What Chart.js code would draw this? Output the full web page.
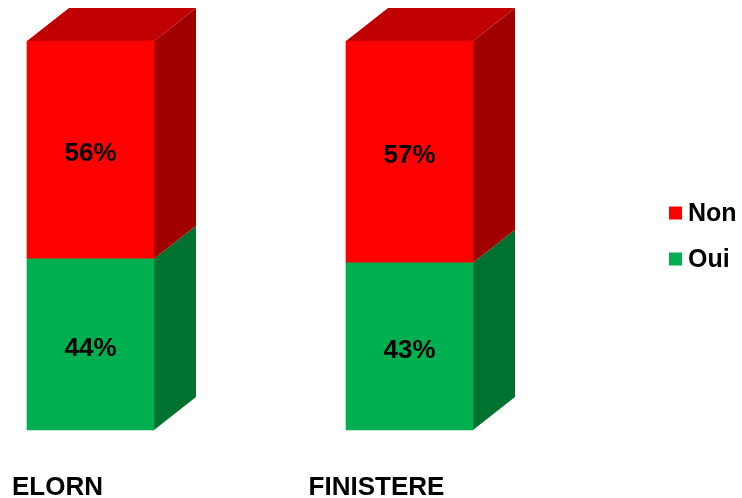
<!DOCTYPE html>
<html>
<head>
<meta charset="utf-8">
<script src="https://cdn.jsdelivr.net/npm/chart.js@4/dist/chart.umd.min.js"></script>
<style>
  html, body { margin: 0; padding: 0; background: #fff; }
  #wrap { width: 742px; height: 498px; position: relative; }
</style>
</head>
<body>
<div id="wrap"><canvas id="chart"></canvas></div>
<script>
/* ---------- Data ---------- */
const categories = ['ELORN', 'FINISTERE'];
const ouiValues  = [44, 43];
const nonValues  = [56, 57];

/* ---------- Look ---------- */
const FONT = '"Liberation Sans", Arial, sans-serif';
const DEPTH = { dx: 42, dy: 33 };        // 3D offset of back faces
const shades = {
  Oui: { front: '#00B050', side: '#007230', top: '#009040' },
  Non: { front: '#FF0000', side: '#A00000', top: '#C00000' }
};

/* ---------- 3D faces ---------- */
const bar3d = {
  id: 'bar3d',
  beforeDatasetsDraw(chart) {
    const ctx = chart.ctx;
    const { dx, dy } = DEPTH;
    const last = chart.data.datasets.length - 1;
    ctx.save();
    chart.data.datasets.forEach((ds, i) => {
      const meta = chart.getDatasetMeta(i);
      const c = shades[ds.label];
      meta.data.forEach(bar => {
        const { x, y, base, width } = bar.getProps(['x', 'y', 'base', 'width'], true);
        const l = x - width / 2, r = x + width / 2;
        // side
        ctx.fillStyle = c.side;
        ctx.beginPath();
        ctx.moveTo(r, y);
        ctx.lineTo(r + dx, y - dy);
        ctx.lineTo(r + dx, base - dy);
        ctx.lineTo(r, base);
        ctx.closePath();
        ctx.fill();
        // top only on the upper stack
        if (i === last) {
          ctx.fillStyle = c.top;
          ctx.beginPath();
          ctx.moveTo(l, y);
          ctx.lineTo(l + dx, y - dy);
          ctx.lineTo(r + dx, y - dy);
          ctx.lineTo(r, y);
          ctx.closePath();
          ctx.fill();
        }
      });
    });
    ctx.restore();
  },
  afterDatasetsDraw(chart) {
    const ctx = chart.ctx;
    ctx.save();
    ctx.font = 'bold 26px ' + FONT;
    ctx.fillStyle = '#000';
    ctx.textAlign = 'center';
    ctx.textBaseline = 'middle';
    chart.data.datasets.forEach((ds, i) => {
      chart.getDatasetMeta(i).data.forEach((bar, j) => {
        const { x, y, base } = bar.getProps(['x', 'y', 'base'], true);
        ctx.fillText(ds.data[j] + '%', x, (y + base) / 2 + 4);
      });
    });
    ctx.restore();
  },
  afterDraw(chart) {
    // legend, top stack first
    const ctx = chart.ctx;
    const items = chart.data.datasets.slice().reverse();
    ctx.save();
    ctx.font = 'bold 25px ' + FONT;
    ctx.textAlign = 'left';
    ctx.textBaseline = 'middle';
    items.forEach((ds, k) => {
      const cy = 213 + k * 46;
      ctx.fillStyle = ds.backgroundColor;
      ctx.fillRect(669, cy - 6.5, 13, 13);
      ctx.fillStyle = '#000';
      ctx.fillText(ds.label, 688, cy + 1);
    });
    ctx.restore();
  }
};

/* ---------- Chart ---------- */
new Chart(document.getElementById('chart'), {
  type: 'bar',
  data: {
    labels: categories,
    datasets: [
      { label: 'Oui', data: ouiValues, backgroundColor: shades.Oui.front, clip: false },
      { label: 'Non', data: nonValues, backgroundColor: shades.Non.front, clip: false }
    ]
  },
  options: {
    responsive: true,
    maintainAspectRatio: false,
    animation: false,
    barThickness: 127,
    layout: { padding: { left: 90.5, right: 332.5, top: 41, bottom: 0 } },
    plugins: { legend: { display: false }, tooltip: { enabled: false } },
    scales: {
      x: {
        stacked: true,
        offset: false,
        grid: { display: false, drawTicks: false },
        border: { display: false },
        ticks: {
          color: '#000',
          font: { family: FONT, size: 26, weight: 'bold' },
          padding: 42,
          labelOffset: -33,
          maxRotation: 0
        },
        afterFit(scale) {
          scale.height = 68;
          scale.paddingLeft = 0;
          scale.paddingRight = 0;
        }
      },
      y: { stacked: true, min: 0, max: 100, display: false }
    }
  },
  plugins: [bar3d]
});
</script>
</body>
</html>
